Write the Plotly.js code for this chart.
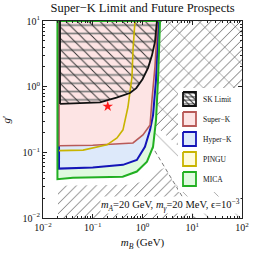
<!DOCTYPE html>
<html><head><meta charset="utf-8">
<script src="https://cdn.plot.ly/plotly-3.0.1.min.js"></script>
<style>html,body{margin:0;padding:0;background:#fff}</style>
</head><body><div id="g" style="width:263px;height:255px"></div>
<script>
// ---- data ----
const tickVals = [0.01, 0.1, 1, 10, 100];
const xTickText = ['10<sup>−2</sup>','10<sup>−1</sup>','10<sup>0</sup>','10<sup>1</sup>','10<sup>2</sup>'];
const yTickVals = [0.01, 0.1, 1, 10];
const yTickText = ['10<sup>−2</sup>','10<sup>−1</sup>','10<sup>0</sup>','10<sup>1</sup>'];

// excluded (hatched) regions
const hatchA_x = [2.3, 100, 100, 6.5, 1.85, 1.95, 2.12, 2.3];
const hatchA_g = [10, 10, 0.025, 0.109, 0.25, 0.45, 1.5, 10];
const hatchB_x = [0.02, 0.02, 0.5, 0.9, 1.3, 2.8, 11.4, 0.02];
const hatchB_g = [0.01, 0.031, 0.032, 0.035, 0.045, 0.058, 0.01, 0.01];
const sparse_x = [2.3, 100, 100, 11.4, 1.6, 2.0, 2.3];
const sparse_g = [10, 10, 0.01, 0.01, 0.13, 1.0, 10];
const dashed_x = [1.5, 11.4];
const dashed_g = [0.13, 0.01];

// sensitivity regions
const mica_x = [0.0195, 0.0195, 0.04, 0.4, 0.77, 1.23, 1.63, 1.87, 2.05, 2.25];
const mica_g = [10, 0.039, 0.041, 0.0426, 0.051, 0.072, 0.122, 0.31, 1.27, 10];
const hyperk_x = [0.021, 0.021, 0.1, 0.405, 0.77, 1.12, 1.42, 1.63, 1.87, 2.1];
const hyperk_g = [10, 0.0565, 0.059, 0.0645, 0.0766, 0.121, 0.22, 0.37, 1.27, 10];
const superk_x = [0.021, 0.021, 0.1, 0.4, 0.644, 1.02, 1.42, 1.55, 1.78, 1.95, 2.0];
const superk_g = [10, 0.126, 0.128, 0.135, 0.139, 0.184, 0.26, 0.63, 2.0, 6.6, 10];
const pingu_x = [0.021, 0.064, 0.193, 0.307, 0.405, 0.51, 0.615, 0.644, 0.706];
const pingu_g = [0.106, 0.108, 0.13, 0.166, 0.22, 0.49, 1.41, 3.6, 10];
const sk_x = [0.022, 0.022, 0.14, 0.3, 0.56, 0.75, 1.0, 1.3, 1.55, 1.78, 1.95];
const sk_g = [10, 0.546, 0.575, 0.68, 0.8, 0.95, 1.3, 1.95, 3.0, 4.8, 10];
const star_x = [0.2];
const star_g = [0.5];

const legendNames = ['SK Limit', 'Super−K', 'Hyper−K', 'PINGU', 'MICA'];
const legendLine = ['#111111', '#b85a58', '#1414b8', '#c8b400', '#22b022'];
const legendFill = ['#ffffff', '#fde4e4', '#dde9fa', '#fefbdc', '#e0fae0'];

// ---- traces ----
const closeArr = a => a.concat([a[0]]);
const traces = [];
function region(x, g, opts) {
  traces.push(Object.assign({type:'scatter', mode:'lines', x:closeArr(x), y:closeArr(g), fill:'toself', hoverinfo:'skip'}, opts));
}
const noLine = {width:0, color:'rgba(0,0,0,0)'};
region(sparse_x, sparse_g, {line:noLine, fillcolor:'rgba(0,0,0,0)', fillpattern:{shape:'\\', fgcolor:'#a0a0a0', bgcolor:'rgba(0,0,0,0)', size:22, solidity:0.04}});
region(hatchA_x, hatchA_g, {line:noLine, fillcolor:'rgba(0,0,0,0)', fillpattern:{shape:'/', fgcolor:'#707070', bgcolor:'rgba(0,0,0,0)', size:7, solidity:0.14}});
region(hatchB_x, hatchB_g, {line:noLine, fillcolor:'rgba(0,0,0,0)', fillpattern:{shape:'/', fgcolor:'#707070', bgcolor:'rgba(0,0,0,0)', size:7, solidity:0.14}});
traces.push({type:'scatter', mode:'lines', x:dashed_x, y:dashed_g, line:{color:'#7a7a7a', width:1, dash:'4px,3px'}, hoverinfo:'skip'});

region(mica_x, mica_g, {line:noLine, fillcolor:legendFill[4]});
region(hyperk_x, hyperk_g, {line:{color:legendLine[2], width:2}, fillcolor:legendFill[2]});
region(superk_x, superk_g, {line:{color:legendLine[1], width:1.6}, fillcolor:legendFill[1]});
region(sk_x, sk_g, {line:noLine, fillcolor:'rgba(0,0,0,0)', fillpattern:{shape:'-', fgcolor:'#808080', bgcolor:'rgba(0,0,0,0)', size:8.3, solidity:0.2}});
region(sk_x, sk_g, {line:noLine, fillcolor:'rgba(0,0,0,0)', fillpattern:{shape:'\\', fgcolor:'#333333', bgcolor:'rgba(0,0,0,0)', size:8, solidity:0.12}});
traces.push({type:'scatter', mode:'lines', x:pingu_x, y:pingu_g, line:{color:legendLine[3], width:1.6}, hoverinfo:'skip'});
traces.push({type:'scatter', mode:'lines', x:closeArr(mica_x), y:closeArr(mica_g), line:{color:legendLine[4], width:2}, hoverinfo:'skip'});
traces.push({type:'scatter', mode:'lines', x:sk_x.slice(1), y:sk_g.slice(1), line:{color:legendLine[0], width:1.8}, hoverinfo:'skip'});
traces.push({type:'scatter', mode:'lines', x:sk_x.slice(0,2), y:sk_g.slice(0,2), line:{color:legendLine[0], width:1.8}, hoverinfo:'skip'});
traces.push({type:'scatter', mode:'markers', x:star_x, y:star_g, marker:{symbol:'star', size:8, color:'#ff1a1a'}, hoverinfo:'skip'});

// ---- custom legend in an inset pixel-like frame ----
const L = {x0:178, x1:242, y0:88, y1:192};
traces.push({type:'scatter', mode:'lines', xaxis:'x2', yaxis:'y2', x:[L.x0,L.x1,L.x1,L.x0,L.x0], y:[L.y0,L.y0,L.y1,L.y1,L.y0], fill:'toself', fillcolor:'#ffffff', line:noLine, hoverinfo:'skip'});
const annotations = [];
legendNames.forEach((name, i) => {
  const by = 92 + 20 * i, bx = 183, w = 13, h = 14;
  const bxs = [bx, bx+w, bx+w, bx, bx], bys = [by, by, by+h, by+h, by];
  traces.push({type:'scatter', mode:'lines', xaxis:'x2', yaxis:'y2', x:bxs, y:bys, fill:'toself', fillcolor:legendFill[i], line:noLine, hoverinfo:'skip'});
  if (i === 0) {
    traces.push({type:'scatter', mode:'lines', xaxis:'x2', yaxis:'y2', x:bxs, y:bys, fill:'toself', fillcolor:'rgba(0,0,0,0)', line:noLine, fillpattern:{shape:'-', fgcolor:'#555', bgcolor:'rgba(0,0,0,0)', size:3.5, solidity:0.3}, hoverinfo:'skip'});
    traces.push({type:'scatter', mode:'lines', xaxis:'x2', yaxis:'y2', x:bxs, y:bys, fill:'toself', fillcolor:'rgba(0,0,0,0)', line:noLine, fillpattern:{shape:'\\', fgcolor:'#222', bgcolor:'rgba(0,0,0,0)', size:4, solidity:0.25}, hoverinfo:'skip'});
  }
  traces.push({type:'scatter', mode:'lines', xaxis:'x2', yaxis:'y2', x:bxs, y:bys, line:{color:legendLine[i], width:1.8}, hoverinfo:'skip'});
  annotations.push({xref:'x2', yref:'y2', x:201, y:by + h/2, text:name, showarrow:false, xanchor:'left', yanchor:'middle', font:{size:7.5, color:'#111'}});
});
annotations.push({xref:'paper', yref:'paper', x:0.997, y:0.066, xanchor:'right', yanchor:'middle', showarrow:false, bgcolor:'#ffffff', borderpad:0,
  text:'<i>m</i><sub><i>A</i></sub>=20 GeV, <i>m</i><sub><i>γ</i></sub>=20 MeV, ϵ=10<sup>−3</sup>', font:{size:10.5, color:'#111'}});

const axCommon = {type:'log', showgrid:false, zeroline:false, showline:true, linecolor:'#222', linewidth:1, mirror:'allticks', ticks:'inside', ticklen:4, tickcolor:'#222', tickmode:'array',
  minor:{ticks:'inside', ticklen:2, tickcolor:'#222', dtick:'D1', showgrid:false}, tickfont:{size:10, color:'#111'}};
const layout = {
  width:263, height:255, margin:{l:43, r:21, t:21, b:37}, showlegend:false,
  paper_bgcolor:'#ffffff', plot_bgcolor:'#ffffff',
  font:{family:'Liberation Serif, Times New Roman, serif', color:'#111', size:10},
  title:{text:'Super−K Limit and Future Prospects', font:{size:12.5, color:'#111'}, x:0.5, xanchor:'center', xref:'paper', y:1 - 8/255, yanchor:'middle'},
  xaxis:Object.assign({}, axCommon, {range:[-2,2], tickvals:tickVals, ticktext:xTickText, title:{text:'<i>m</i><sub><i>B</i></sub> (GeV)', font:{size:11}, standoff:6}}),
  yaxis:Object.assign({}, axCommon, {range:[-2,1], tickvals:yTickVals, ticktext:yTickText, title:{text:'<i>g</i>′', font:{size:11}, standoff:10}}),
  xaxis2:{domain:[(L.x0-43)/199, 1], range:[L.x0, L.x1], visible:false, anchor:'y2', fixedrange:true},
  yaxis2:{domain:[(218-L.y1)/197, (218-L.y0)/197], range:[L.y1, L.y0], visible:false, anchor:'x2', fixedrange:true},
  annotations:annotations
};
Plotly.newPlot('g', traces, layout, {staticPlot:true, displayModeBar:false});
</script></body></html>
